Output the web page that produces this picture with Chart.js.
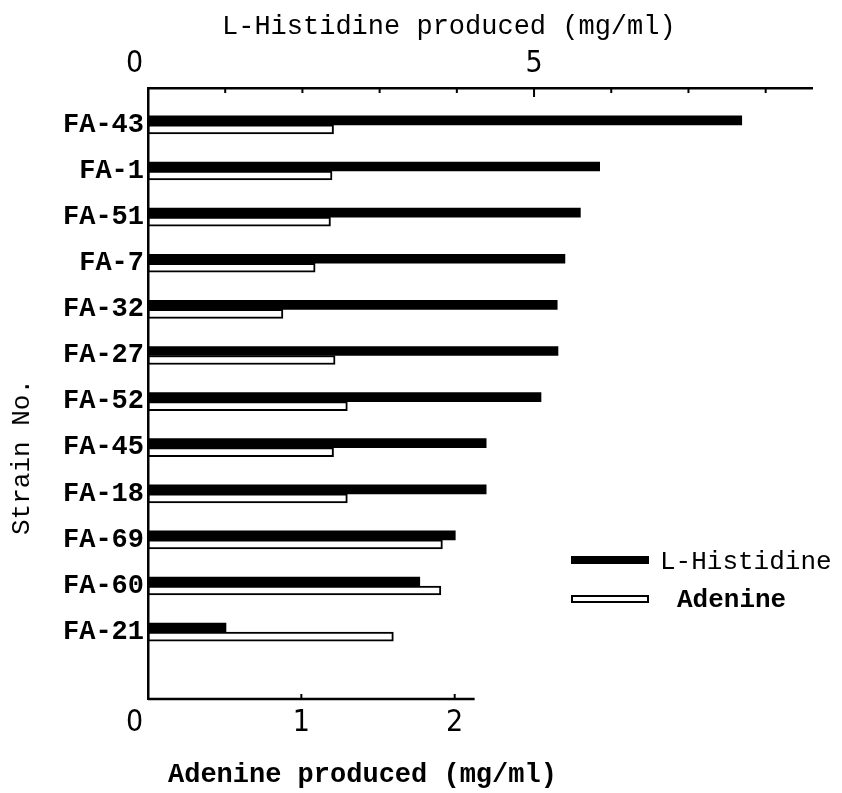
<!DOCTYPE html>
<html lang="en">
<head>
  <meta charset="UTF-8" />
  <title>L-Histidine and Adenine produced by strain</title>
  <script src="https://cdn.jsdelivr.net/npm/chart.js"></script>
  <style>
    body { margin: 0; background: #fff; }
    #wrap { position: relative; width: 842px; height: 793px; }
    .txt { position: absolute; font-family: "Liberation Mono", "Courier New", monospace; color: #000; white-space: nowrap; }
    .swatch { position: absolute; width: 78px; height: 8px; box-sizing: border-box; }
  </style>
</head>
<body>
  <div id="wrap">
    <canvas id="chart"></canvas>

    <div class="txt" style="left:222px; top:12px; font-size:27px;">L-Histidine produced (mg/ml)</div>
    <div class="txt" style="left:168px; top:760px; font-size:27px; font-weight:bold;">Adenine produced (mg/ml)</div>
    <div class="txt" style="left:22px; top:457px; font-size:26px; transform:translate(-50%,-50%) rotate(-90deg);">Strain No.</div>

    <!-- legend -->
    <div class="swatch" style="left:571px; top:556px; background:#000;"></div>
    <div class="txt" style="left:660px; top:547px; font-size:26px;">L-Histidine</div>
    <div class="swatch" style="left:571px; top:595px; background:#fff; border:2px solid #000;"></div>
    <div class="txt" style="left:677px; top:585px; font-size:26px; font-weight:bold;">Adenine</div>
  </div>

  <script>
    const strains = ["FA-43", "FA-1", "FA-51", "FA-7", "FA-32", "FA-27", "FA-52", "FA-45", "FA-18", "FA-69", "FA-60", "FA-21"];
    const histidine = [7.69, 5.85, 5.60, 5.40, 5.30, 5.31, 5.09, 4.38, 4.38, 3.98, 3.52, 1.01];   // mg/ml, top axis
    const adenine   = [1.21, 1.20, 1.19, 1.09, 0.88, 1.22, 1.30, 1.21, 1.30, 1.92, 1.91, 1.60];   // mg/ml, bottom axis

    const topLabels = [0, 5];
    const topMinorTicks = [1, 2, 3, 4, 5, 6, 7, 8];
    const bottomLabels = [0, 1, 2];
    const bottomMinorTicks = [1, 2];
    const bottomAxisEnd = 2.13;

    const tickFont = { family: "'Liberation Sans Narrow', 'DejaVu Sans Condensed', sans-serif", size: 30 };
    // the zeros sit a little left of the axis origin in the scan
    const tickText = v => (v === 0 ? '0\u2002\u2002' : String(v));

    // small inward ticks + the short bottom axis line, as in the figure
    const axisMarks = {
      id: 'axisMarks',
      afterDraw(chart) {
        const ctx = chart.ctx;
        const top = chart.scales.xTop, bot = chart.scales.x;
        ctx.save();
        ctx.strokeStyle = '#000';
        ctx.lineWidth = 2;
        topMinorTicks.forEach(v => {
          const px = top.getPixelForValue(v);
          ctx.beginPath();
          ctx.moveTo(px, top.bottom);
          ctx.lineTo(px, top.bottom + (v === 5 ? 9 : 5));
          ctx.stroke();
        });
        ctx.lineWidth = 2.5;
        ctx.beginPath();
        ctx.moveTo(bot.getPixelForValue(0), bot.top);
        ctx.lineTo(bot.getPixelForValue(bottomAxisEnd), bot.top);
        ctx.stroke();
        ctx.lineWidth = 2;
        bottomMinorTicks.forEach(v => {
          const px = bot.getPixelForValue(v);
          ctx.beginPath();
          ctx.moveTo(px, bot.top);
          ctx.lineTo(px, bot.top - 5);
          ctx.stroke();
        });
        ctx.restore();
      }
    };

    new Chart(document.getElementById('chart'), {
      type: 'bar',
      data: {
        datasets: [
          {
            label: 'L-Histidine',
            data: strains.map((s, i) => ({ x: histidine[i], y: i })),
            xAxisID: 'xTop',
            backgroundColor: '#000',
            borderWidth: 0,
            barThickness: 9
          },
          {
            label: 'Adenine',
            data: strains.map((s, i) => ({ x: adenine[i], y: i })),
            xAxisID: 'x',
            backgroundColor: '#fff',
            borderColor: '#000',
            borderWidth: 2,
            borderSkipped: false,
            barThickness: 9
          }
        ]
      },
      options: {
        indexAxis: 'y',
        responsive: true,
        maintainAspectRatio: false,
        animation: false,
        layout: { padding: { left: 0, right: 30, top: 0, bottom: 0 } },
        plugins: { legend: { display: false }, tooltip: { enabled: false } },
        scales: {
          y: {
            type: 'linear',
            offset: false,
            reverse: true,
            min: -0.8,
            max: 12.45,
            afterBuildTicks: s => { s.ticks = strains.map((_, i) => ({ value: i })); },
            afterFit: s => { s.width = 148; },
            ticks: {
              callback: v => strains[v],
              color: '#000',
              padding: 4,
              font: { family: "'Liberation Mono', 'Courier New', monospace", size: 27, weight: 'bold' }
            },
            grid: { display: false, drawTicks: false, offset: false },
            border: { display: true, color: '#000', width: 2.5 }
          },
          xTop: {
            type: 'linear',
            position: 'top',
            min: 0,
            max: 8.6,
            afterBuildTicks: s => { s.ticks = topLabels.map(v => ({ value: v })); },
            afterFit: s => { s.height = 88; },
            ticks: { color: '#000', padding: 6, font: tickFont, maxRotation: 0, callback: tickText },
            grid: { display: false, drawTicks: false },
            border: { display: true, color: '#000', width: 2.5 }
          },
          x: {
            type: 'linear',
            position: 'bottom',
            min: 0,
            max: 4.33,
            afterBuildTicks: s => { s.ticks = bottomLabels.map(v => ({ value: v })); },
            afterFit: s => { s.height = 94; },
            ticks: { color: '#000', padding: 6, font: tickFont, maxRotation: 0, callback: tickText },
            grid: { display: false, drawTicks: false },
            border: { display: false }
          }
        }
      },
      plugins: [axisMarks]
    });
  </script>
</body>
</html>
